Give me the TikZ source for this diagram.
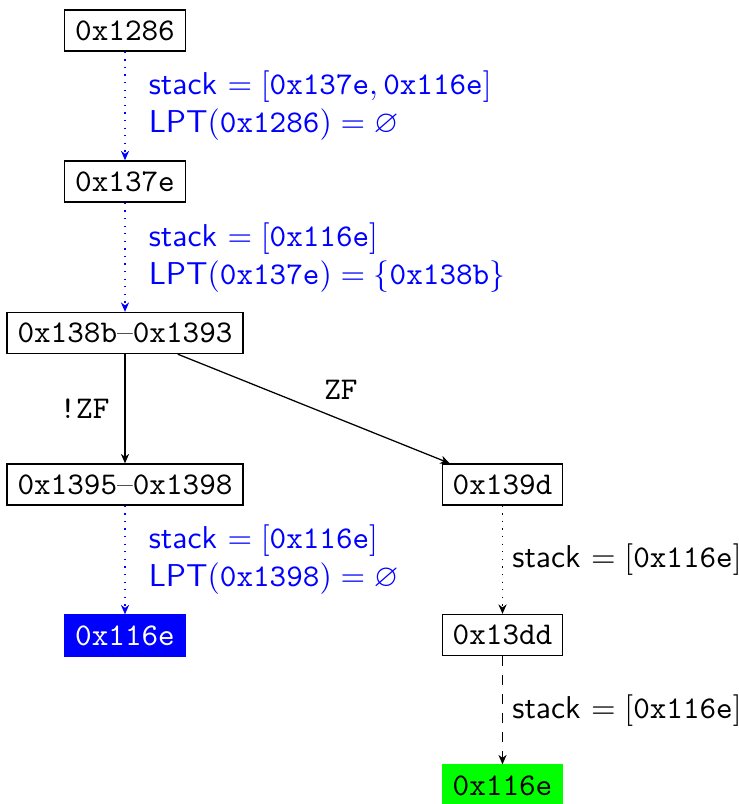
\documentclass[tikz,border=0pt]{standalone}
\usepackage{amssymb}
\usetikzlibrary{arrows.meta}
\newcommand{\rangedash}{\textrm{--}}
\begin{document}
\begin{tikzpicture}[x=0.3164pt,y=-0.3164pt,
  block/.style={draw,rectangle,inner sep=3.333pt,font=\ttfamily},
  hitblock/.style={block,draw=blue,fill=blue,text=white},
  goalblock/.style={block,draw=green,fill=green},
  flow/.style={-{Stealth[length=3pt,width=2.6pt]}},
  lptflow/.style={flow,dotted,blue},
  stackflow/.style={flow,dotted},
  jumpflow/.style={flow,dashed},
  bluenote/.style={right=4pt,align=left,text=blue,font=\sffamily},
  blacknote/.style={right=-0.4pt,align=left,font=\sffamily}]
\useasboundingbox (0,0) rectangle (739,804);

\node[block] (a) at (125,30.5) {0x1286};
\node[block] (b) at (125,181.5) {0x137e};
\node[block] (c) at (125,333) {0x138b\rangedash0x1393};
\node[block] (d) at (125,484.5) {0x1395\rangedash0x1398};
\node[block] (e) at (502.5,484.5) {0x139d};
\node[hitblock] (f) at (125,635.5) {0x116e};
\node[block] (g) at (502.5,635) {0x13dd};
\node[goalblock] (h) at (502.5,785.5) {0x116e};

\draw[lptflow] (a) -- node[bluenote] {stack $=[\texttt{0x137e},\texttt{0x116e}]$\\
  LPT$(\texttt{0x1286})=\varnothing$} (b);
\draw[lptflow] (b) -- node[bluenote] {stack $=[\texttt{0x116e}]$\\
  LPT$(\texttt{0x137e})=\{\texttt{0x138b}\}$} (c);
\draw[flow] (c) -- node[left=1.4pt,font=\ttfamily] {!ZF} (d);
\draw[flow] (c) -- node[pos=0.6,above=2.8pt,font=\ttfamily] {ZF} (e);
\draw[lptflow] (d) -- node[bluenote] {stack $=[\texttt{0x116e}]$\\
  LPT$(\texttt{0x1398})=\varnothing$} (f);
\draw[stackflow] (e) -- node[blacknote] {stack $=[\texttt{0x116e}]$} (g);
\draw[jumpflow] (g) -- node[blacknote] {stack $=[\texttt{0x116e}]$} (h);
\end{tikzpicture}
\end{document}
